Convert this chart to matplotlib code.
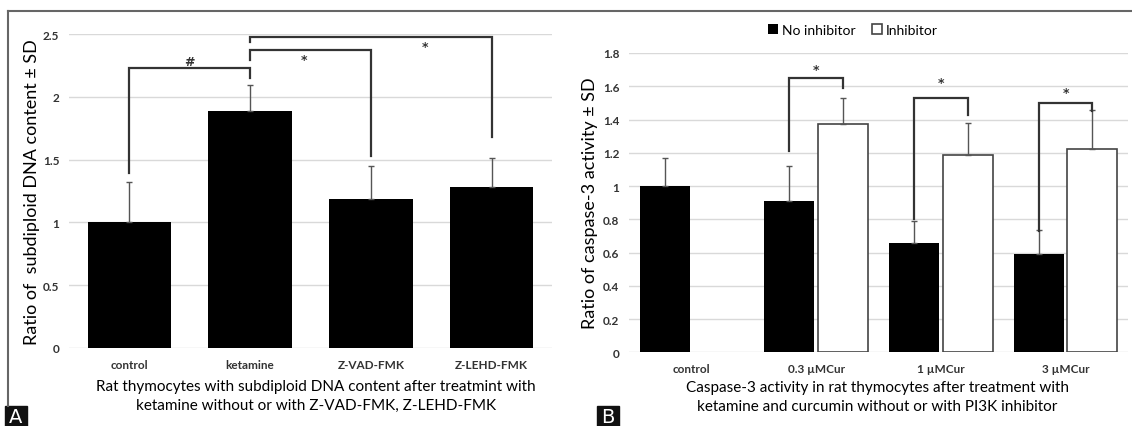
import numpy as np
import matplotlib
matplotlib.use("Agg")
import matplotlib.pyplot as plt
from matplotlib.patches import Rectangle

plt.rcParams['font.family'] = ['Lato', 'DejaVu Sans']

# Panel A data
a_cats = ["control", "ketamine", "Z-VAD-FMK", "Z-LEHD-FMK"]
a_vals = [1.0, 1.89, 1.19, 1.285]
a_sd = [0.32, 0.20, 0.26, 0.23]
a_ticks = [0, 0.5, 1, 1.5, 2, 2.5]
# brackets: (x1, x2, left bottom, top, right bottom, label, label x, label y)
a_brackets = [
    (0, 1, 1.39, 2.23, 2.15, "#", 0.5, 2.28),
    (1, 2, 2.29, 2.37, 1.53, "*", 1.45, 2.30),
    (1, 3, 2.44, 2.48, 1.68, "*", 2.45, 2.40),
]

# Panel B data
b_cats = ["control", "0.3 \u00b5MCur", "1 \u00b5MCur", "3 \u00b5MCur"]
b_none = [1.0, 0.91, 0.655, 0.59]
b_none_sd = [0.17, 0.21, 0.135, 0.145]
b_inh = [np.nan, 1.37, 1.186, 1.22]
b_inh_sd = [np.nan, 0.16, 0.195, 0.237]
b_ticks = [0, 0.2, 0.4, 0.6, 0.8, 1, 1.2, 1.4, 1.6, 1.8]
b_brackets = [
    (1, 1.21, 1.65, 1.59, 1.70),
    (2, 0.80, 1.53, 1.43, 1.62),
    (3, 0.73, 1.50, 1.45, 1.56),
]

W, H = 1132, 427
fig = plt.figure(figsize=(W / 100, H / 100), dpi=100)

def px_axes(x0, y0, x1, y1):
    return fig.add_axes([x0 / W, 1 - y1 / H, (x1 - x0) / W, (y1 - y0) / H])

def style(ax, ticks, labels, ylim):
    ax.set_ylim(*ylim)
    ax.set_xlim(-0.5, 3.5)
    ax.set_yticks(ticks)
    ax.set_yticklabels([f"{t:g}" for t in ticks], fontsize=8.5, fontweight='bold', color='#333333')
    ax.set_xticks(range(4))
    ax.set_xticklabels(labels, fontsize=8.5, fontweight='bold', color='#333333')
    ax.tick_params(length=0, pad=8)
    ax.tick_params(axis='y', pad=7)
    for s in ax.spines.values():
        s.set_visible(False)
    ax.grid(axis='y', color='#d9d9d9', lw=1)
    ax.set_axisbelow(True)

# ---- Panel A
axA = px_axes(69, 35, 552, 349)
x = np.arange(4)
axA.bar(x, a_vals, width=0.69, color='black', zorder=2)
axA.errorbar(x, a_vals, yerr=[np.zeros(4), a_sd], fmt='none', ecolor='#555555',
             elinewidth=1, capsize=2, capthick=1, zorder=3)
style(axA, a_ticks, a_cats, (0, 2.5))
axA.set_ylabel("Ratio of  subdiploid DNA content \u00b1 SD", fontsize=13)
axA.yaxis.set_label_coords(-0.06, 0.5)
for x1, x2, yl, yt, yr, lab, lx, ly in a_brackets:
    axA.plot([x1, x1, x2, x2], [yl, yt, yt, yr], color='#333333', lw=1.6,
             solid_joinstyle='miter', zorder=4, clip_on=False)
    axA.text(lx, ly, lab, ha='center', va='center', fontsize=9, fontweight='bold',
             color='#333333', family='DejaVu Sans')

fig.text(316 / W, 1 - 387 / H, "Rat thymocytes with subdiploid DNA content after treatmint with",
         ha='center', va='center', fontsize=11)
fig.text(316 / W, 1 - 406 / H, "ketamine without or with Z-VAD-FMK, Z-LEHD-FMK",
         ha='center', va='center', fontsize=11)

# ---- Panel B
axB = px_axes(629, 54, 1128, 353.3)
off, bw = 0.215, 0.40
axB.bar(x - off, b_none, width=bw, color='black', zorder=2, label="No inhibitor")
axB.bar(x + off, b_inh, width=bw, color='white', edgecolor='#444444', lw=1.2, zorder=2,
        label="Inhibitor")
axB.errorbar(x - off, b_none, yerr=[np.zeros(4), b_none_sd], fmt='none', ecolor='#555555',
             elinewidth=1, capsize=2, capthick=1, zorder=3)
axB.errorbar(x + off, b_inh, yerr=[np.zeros(4), b_inh_sd], fmt='none', ecolor='#555555',
             elinewidth=1, capsize=2, capthick=1, zorder=3)
style(axB, b_ticks, b_cats, (0, 1.8))
axB.set_ylabel("Ratio of caspase-3 activity \u00b1 SD", fontsize=13)
axB.yaxis.set_label_coords(-0.062, 0.5)
for xc, yl, yt, yr, sy in b_brackets:
    axB.plot([xc - off, xc - off, xc + off, xc + off], [yl, yt, yt, yr], color='#333333',
             lw=1.6, solid_joinstyle='miter', zorder=4)
    axB.text(xc, sy, "*", ha='center', va='center', fontsize=9, fontweight='bold',
             color='#333333', family='DejaVu Sans')

leg = fig.legend(*axB.get_legend_handles_labels(), loc='center', ncol=2,
                 bbox_to_anchor=(853 / W, 1 - 31 / H), frameon=False, fontsize=10,
                 handlelength=0.7, handleheight=0.7, handletextpad=0.3, columnspacing=1.2)

fig.text(877 / W, 1 - 388 / H, "Caspase-3 activity in rat thymocytes after treatment with",
         ha='center', va='center', fontsize=11)
fig.text(877 / W, 1 - 407 / H, "ketamine and curcumin without or with PI3K inhibitor",
         ha='center', va='center', fontsize=11)

# frame lines and panel letters
fig.add_artist(plt.Line2D([8 / W, 1], [1 - 12 / H, 1 - 12 / H], color='#666666', lw=1.5))
fig.add_artist(plt.Line2D([8 / W, 8 / W], [1 - 12 / H, 1 - 407 / H], color='#666666', lw=1.5))
for lab, x0 in [("A", 5), ("B", 597)]:
    fig.add_artist(Rectangle((x0 / W, 0), 22 / W, 20 / H, transform=fig.transFigure,
                             color='#111111'))
    fig.text((x0 + 11) / W, 9 / H, lab, ha='center', va='center', color='white',
             fontsize=14, family='DejaVu Sans')

fig.savefig("out.png", dpi=100)
